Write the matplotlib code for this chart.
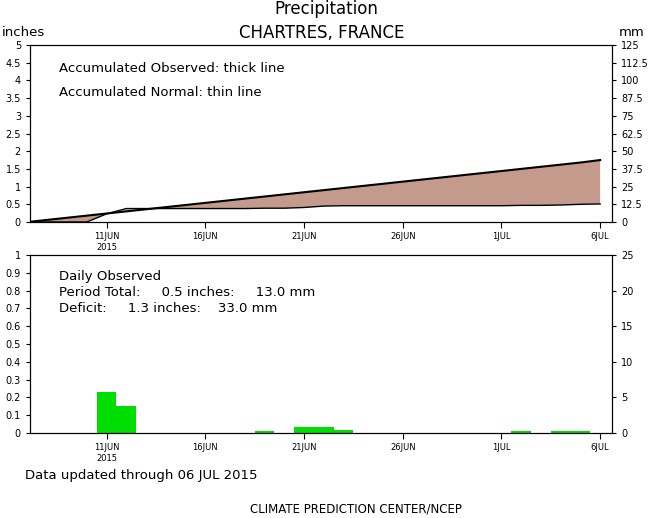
import matplotlib
matplotlib.use("Agg")
import matplotlib.pyplot as plt
import numpy as np

days = list(range(7, 37))
obs_cum = [0,0,0,0,0.23,0.38,0.38,0.38,0.38,0.38,0.38,0.38,0.39,0.39,0.41,0.45,0.46,0.46,0.46,0.46,0.46,0.46,0.46,0.46,0.46,0.47,0.47,0.48,0.50,0.51]
norm_cum = [0,0.06,0.12,0.18,0.24,0.30,0.36,0.42,0.48,0.54,0.60,0.66,0.72,0.78,0.84,0.90,0.96,1.02,1.08,1.14,1.20,1.26,1.32,1.38,1.44,1.50,1.56,1.62,1.68,1.75]
bar_days = [11,12,19,21,22,23,32,34,35]
bar_vals = [0.23,0.15,0.01,0.035,0.035,0.015,0.01,0.01,0.01]
tick_days = [11,16,21,26,31,36]
tick_labels = ["11JUN\n2015","16JUN","21JUN","26JUN","1JUL","6JUL"]

plt.rcParams['font.family'] = ['DejaVu Sans']
fig = plt.figure(figsize=(6.52,5.18), dpi=100)
W,H = 652,518
def ax_at(x0,y0,x1,y1):
    return fig.add_axes([x0/W, 1-y1/H, (x1-x0)/W, (y1-y0)/H])

xl = (7.12, 36.6)
ax1 = ax_at(30,45,612,222)
o = np.array(obs_cum); n = np.array(norm_cum)
ax1.fill_between(days, o, n, where=n>=o, interpolate=True, color='#c49a8c', lw=0)
ax1.fill_between(days, o, n, where=o>n, interpolate=True, color='#90ee80', lw=0)
ax1.plot(days, n, color='black', lw=1.5)
ax1.plot(days, o, color='black', lw=1.0)
ax1.set_xlim(*xl); ax1.set_ylim(0,5)
ax1.set_yticks(np.arange(0,5.01,0.5))
ax1.set_yticklabels([f"{v:g}" for v in np.arange(0,5.01,0.5)])
r1 = ax1.twinx(); r1.set_ylim(0,125)
r1.set_yticks(np.arange(0,125.1,12.5))
r1.set_yticklabels([f"{v:g}" for v in np.arange(0,125.1,12.5)])
ax1.text(0.05,0.85,"Accumulated Observed: thick line",transform=ax1.transAxes,fontsize=9.5)
ax1.text(0.05,0.71,"Accumulated Normal: thin line",transform=ax1.transAxes,fontsize=9.5)

ax2 = ax_at(30,255,612,433)
ax2.bar(bar_days, bar_vals, width=1.0, color='#00dd00')
ax2.set_xlim(*xl); ax2.set_ylim(0,1)
ax2.set_yticks(np.arange(0,1.01,0.1))
ax2.set_yticklabels([f"{v:g}" for v in np.arange(0,1.01,0.1)])
r2 = ax2.twinx(); r2.set_ylim(0,25)
r2.set_yticks([0,5,10,15,20,25])
ax2.text(0.05,0.86,"Daily Observed",transform=ax2.transAxes,fontsize=9.5)
ax2.text(0.05,0.77,"Period Total:     0.5 inches:     13.0 mm",transform=ax2.transAxes,fontsize=9.5)
ax2.text(0.05,0.68,"Deficit:     1.3 inches:    33.0 mm",transform=ax2.transAxes,fontsize=9.5)

for a in (ax1,ax2,r1,r2):
    a.tick_params(labelsize=7, length=3, direction='out')
for a in (ax1,ax2):
    a.set_xticks(tick_days); a.set_xticklabels(tick_labels, fontsize=6)
    a.tick_params(axis='x', length=4)

fig.text(326/W,1-9/H,"Precipitation",ha='center',va='center',fontsize=12)
fig.text(322/W,1-33/H,"CHARTRES, FRANCE",ha='center',va='center',fontsize=12)
fig.text(2/W,1-32/H,"inches",ha='left',va='center',fontsize=9.5)
fig.text(632/W,1-32/H,"mm",ha='center',va='center',fontsize=9.5)
fig.text(25/W,1-476/H,"Data updated through 06 JUL 2015",ha='left',va='center',fontsize=9.5)
fig.text(356/W,1-509/H,"CLIMATE PREDICTION CENTER/NCEP",ha='center',va='center',fontsize=8.5)
fig.savefig("out.png", dpi=100)
